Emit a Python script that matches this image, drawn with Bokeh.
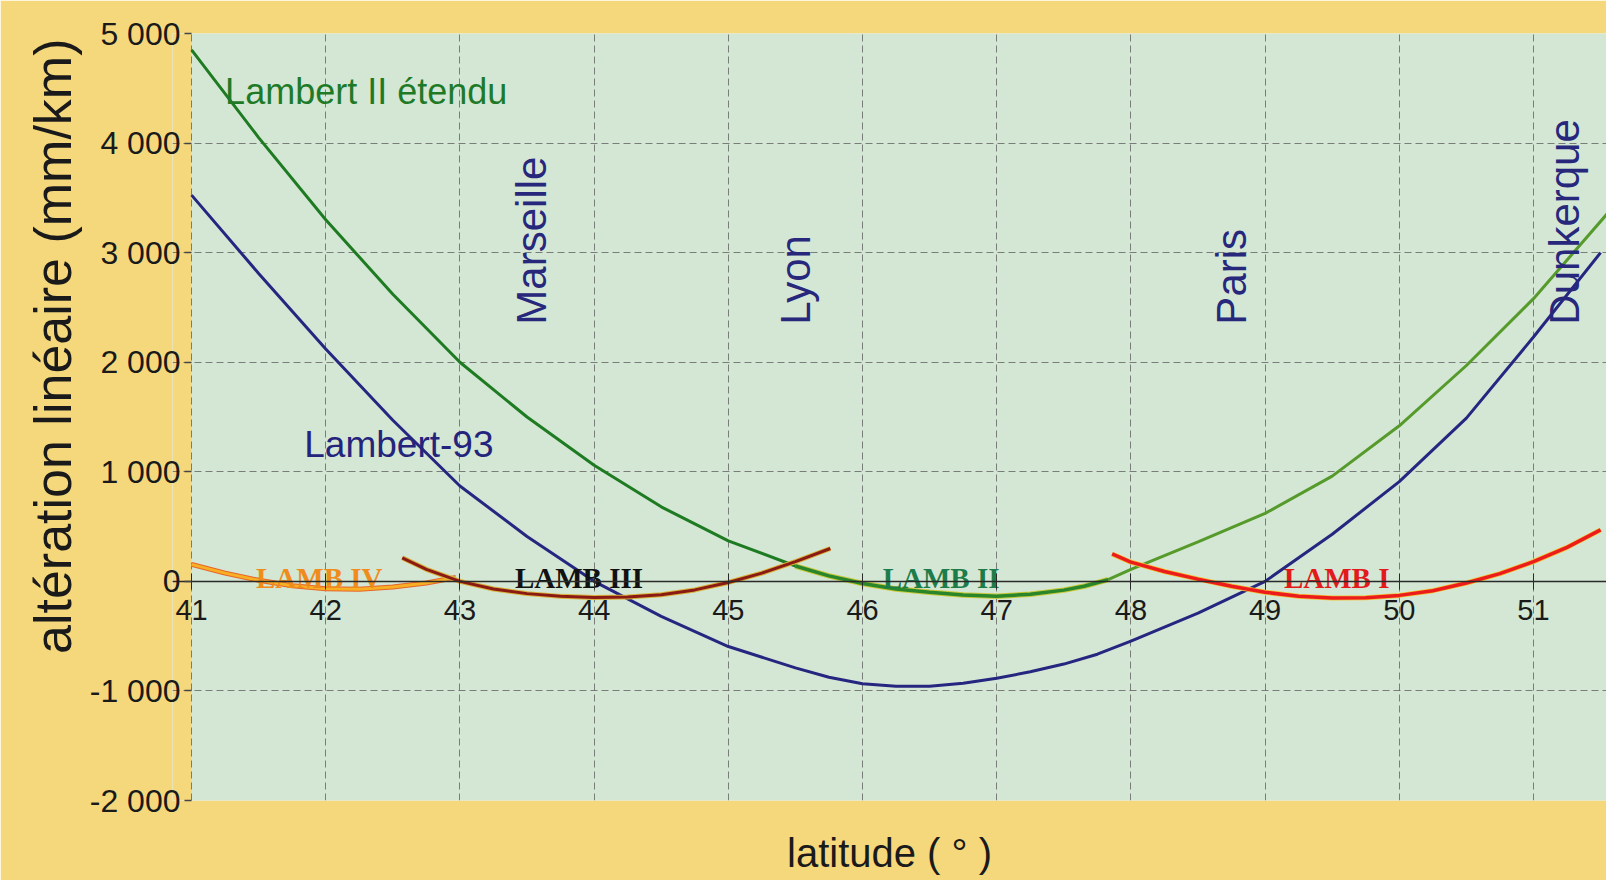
import math
from bokeh.plotting import figure
from bokeh.models import (Range1d, FixedTicker, LinearAxis, ColumnDataSource, Label,
                          Title, BoxAnnotation)
from bokeh.core.properties import value
from bokeh.embed import file_html
from bokeh.resources import INLINE

# ---------------- data ----------------
x_ticks = [41, 42, 43, 44, 45, 46, 47, 48, 49, 50, 51]
y_ticks = [-2000, -1000, 0, 1000, 2000, 3000, 4000, 5000]
y_tick_labels = ["-2 000", "-1 000", "0", "1 000", "2 000", "3 000", "4 000", "5 000"]

lat_etendu = [41.0, 41.5, 42.0, 42.5, 43.0, 43.5, 44.0, 44.5, 45.0, 45.5, 45.75, 46.0,
              46.25, 46.5, 46.75, 47.0, 47.25, 47.5, 47.65, 47.83, 48.0, 48.5, 49.0,
              49.5, 50.0, 50.5, 51.0, 51.56]
alt_etendu = [4850, 4050, 3300, 2620, 2000, 1500, 1060, 680, 370, 140, 50, -20,
              -70, -100, -125, -135, -118, -80, -45, 15, 110, 360, 620,
              960, 1420, 1970, 2580, 3370]

lat_l93 = [41.0, 41.5, 42.0, 42.5, 43.0, 43.5, 44.0, 44.5, 45.0, 45.5, 45.75, 46.0,
           46.25, 46.5, 46.75, 47.0, 47.25, 47.5, 47.75, 48.0, 48.5, 49.0, 49.5,
           50.0, 50.5, 51.0, 51.5]
alt_l93 = [3525, 2810, 2120, 1470, 870, 410, 0, -320, -595, -790, -875, -935,
           -958, -958, -930, -885, -825, -755, -665, -545, -290, 0, 430,
           910, 1490, 2230, 3000]

lat_lamb1 = [47.86, 48.0, 48.25, 48.5, 48.75, 49.0, 49.25, 49.5, 49.75, 50.0,
             50.25, 50.5, 50.75, 51.0, 51.25, 51.5]
alt_lamb1 = [250, 175, 90, 20, -45, -100, -135, -152, -150, -128,
             -85, -15, 70, 180, 310, 470]

lat_lamb2 = [45.5, 45.75, 46.0, 46.25, 46.5, 46.75, 47.0, 47.25, 47.5, 47.65, 47.83]
alt_lamb2 = [140, 50, -20, -70, -100, -125, -135, -118, -80, -45, 15]

lat_lamb3 = [42.57, 42.75, 43.0, 43.25, 43.5, 43.75, 44.0, 44.25, 44.5, 44.75,
             45.0, 45.25, 45.5, 45.76]
alt_lamb3 = [215, 110, 0, -70, -112, -137, -147, -143, -122, -78,
             -10, 75, 180, 300]

lat_lamb4 = [41.0, 41.25, 41.5, 41.75, 42.0, 42.25, 42.5, 42.75, 42.97]
alt_lamb4 = [155, 75, 10, -40, -68, -72, -52, -15, 35]

cities = ["Marseille", "Lyon", "Paris", "Dunkerque"]
city_label_lat = [43.53, 45.5, 48.75, 51.23]

zone_names = ["LAMB IV", "LAMB III", "LAMB II", "LAMB I"]
zone_label_lat = [41.48, 43.41, 46.15, 49.14]
zone_colors = ["#f08c1c", "#111111", "#1d7d4a", "#e31a1a"]

# ---------------- figure ----------------
SANS = "Liberation Sans"
SERIF = "Liberation Serif"
PAPER = "#f6d87c"

# a thin paper-coloured margin is kept left of 41 so that the first tick number shows
p = figure(width=1606, height=880, output_backend="svg", toolbar_location=None,
           x_range=Range1d(40.858, 51.544), y_range=Range1d(-2000, 5000),
           min_border_left=172, min_border_top=33, min_border_right=0,
           min_border_bottom=80,
           background_fill_color="#d4e7d5", border_fill_color=PAPER,
           outline_line_color=None)

p.add_layout(BoxAnnotation(right=x_ticks[0], fill_color=PAPER, fill_alpha=1.0,
                           line_alpha=0, level="image"))

# x axis drawn on the zero line (ticks + line); its numbers are placed below it
xa = p.xaxis[0]
xa.ticker = FixedTicker(ticks=x_ticks)
xa.fixed_location = 0
xa.axis_line_color = "#2a2a2a"
xa.axis_line_width = 1.5
xa.major_tick_in = 8
xa.major_tick_out = 8
xa.major_tick_line_color = "#2a2a2a"
xa.minor_tick_line_color = None
xa.major_label_text_font_size = "0px"
xa.major_label_text_alpha = 0

for t in x_ticks:
    p.add_layout(Label(x=t, y=0, text=str(t), y_offset=-19,
                       text_align="center", text_baseline="top",
                       text_font=SANS, text_font_size="29px",
                       text_color="#1a1a1a"))

# axis carrying only the x title
xt = LinearAxis(ticker=FixedTicker(ticks=[]), axis_label="latitude ( ° )",
                axis_line_color=None, major_tick_line_color=None,
                minor_tick_line_color=None, major_tick_out=0, minor_tick_out=0,
                major_label_standoff=0, axis_label_standoff=30,
                axis_label_text_font=SANS, axis_label_text_font_size="40px",
                axis_label_text_font_style="normal", axis_label_text_color="#1a1a1a")
p.add_layout(xt, "below")

ya = p.yaxis[0]
ya.ticker = FixedTicker(ticks=y_ticks)
ya.major_label_overrides = {t: l for t, l in zip(y_ticks, y_tick_labels)}
ya.axis_line_color = None
ya.major_tick_in = 19
ya.major_tick_out = -12
ya.major_tick_line_color = "#444444"
ya.major_tick_line_width = 1.5
ya.minor_tick_line_color = None
ya.major_label_text_font = SANS
ya.major_label_text_font_size = "32px"
ya.major_label_text_color = "#1a1a1a"
ya.major_label_standoff = -8

# y title, placed like the original (upper part of the left margin)
p.add_layout(Title(text="altération linéaire (mm/km)", align="right", offset=5,
                   standoff=10, text_font=SANS, text_font_size="52px",
                   text_font_style="normal", text_color="#1a1a1a"), "left")

p.xgrid.ticker = FixedTicker(ticks=x_ticks)
p.ygrid.ticker = FixedTicker(ticks=y_ticks)
for g in (p.xgrid[0], p.ygrid[0]):
    g.grid_line_color = "#5a5a5a"
    g.grid_line_alpha = 0.75
    g.grid_line_dash = "7 4"
    g.grid_line_width = 1

# ---------------- curves ----------------
k = lat_etendu.index(47.83)
p.line(lat_etendu[:k + 1], alt_etendu[:k + 1], line_color="#1e7b22", line_width=3)
p.line(lat_etendu[k:], alt_etendu[k:], line_color="#559a2a", line_width=3)
p.line(lat_lamb2, alt_lamb2, line_color="#c9c93a", line_width=5.5)
p.line(lat_lamb2, alt_lamb2, line_color="#2a862a", line_width=3.5)

p.line(lat_l93, alt_l93, line_color="#262680", line_width=3)

p.line(lat_lamb4, alt_lamb4, line_color="#e8642a", line_width=5)
p.line(lat_lamb4, alt_lamb4, line_color="#f7b024", line_width=3)

p.line(lat_lamb3, alt_lamb3, line_color="#d8b23a", line_width=5)
p.line(lat_lamb3, alt_lamb3, line_color="#8a1a14", line_width=3)

p.line(lat_lamb1, alt_lamb1, line_color="#f2c230", line_width=5)
p.line(lat_lamb1, alt_lamb1, line_color="#ec1c1c", line_width=3.5)

# ---------------- texts ----------------
p.text(x=[41.25], y=[4470], text=["Lambert II étendu"], text_color="#1f7a28",
       text_font=value(SANS), text_font_size="36px", text_align="left",
       text_baseline="alphabetic")
p.text(x=[41.84], y=[1245], text=["Lambert-93"], text_color="#24247c",
       text_font=value(SANS), text_font_size="37px", text_align="left",
       text_baseline="alphabetic")

city_src = ColumnDataSource(dict(x=city_label_lat, y=[2343] * len(cities), t=cities))
p.text(x="x", y="y", text="t", source=city_src, angle=math.pi / 2,
       text_color="#27277c", text_font=value(SANS), text_font_size="42px",
       text_align="left", text_baseline="alphabetic")

zone_src = ColumnDataSource(dict(x=zone_label_lat, y=[35] * len(zone_names),
                                 t=zone_names, c=zone_colors))
p.text(x="x", y="y", text="t", source=zone_src, text_color="c",
       text_font=value(SERIF), text_font_style="bold", text_font_size="29px",
       text_align="left", text_baseline="alphabetic")

open("out.html", "w").write(file_html(p, INLINE))
